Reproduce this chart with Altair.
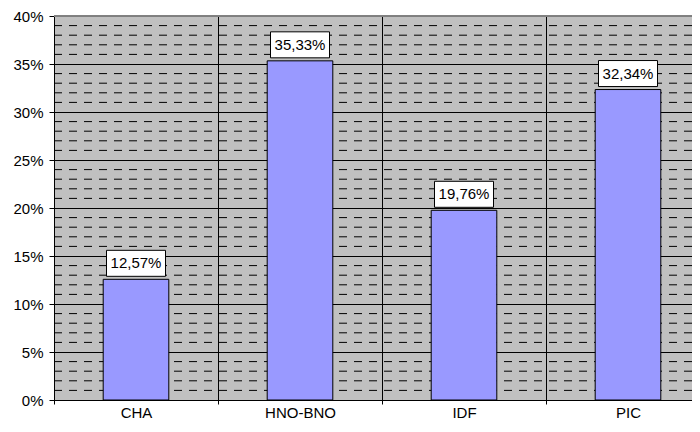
import altair as alt
import pandas as pd

categories = ["CHA", "HNO-BNO", "IDF", "PIC"]
values = [0.1257, 0.3533, 0.1976, 0.3234]
labels = ["12,57%", "35,33%", "19,76%", "32,34%"]
major_ticks = [0.0, 0.05, 0.10, 0.15, 0.20, 0.25, 0.30, 0.35, 0.40]
minor_ticks = [0.01, 0.02, 0.03, 0.04, 0.06, 0.07, 0.08, 0.09,
               0.11, 0.12, 0.13, 0.14, 0.16, 0.17, 0.18, 0.19,
               0.21, 0.22, 0.23, 0.24, 0.26, 0.27, 0.28, 0.29,
               0.31, 0.32, 0.33, 0.34, 0.36, 0.37, 0.38, 0.39]
y_max = 0.40

df = pd.DataFrame({"cat": categories, "value": values, "label": labels})
minor_df = pd.DataFrame({"v": minor_ticks})

FONT = "Liberation Sans"

y_scale = alt.Scale(domain=[0, y_max], nice=False, zero=True)
y_axis = alt.Axis(values=major_ticks, format=".0%", title=None, grid=True,
                  gridColor="black", gridOpacity=1, gridWidth=1,
                  tickColor="black", tickSize=5, domainColor="black",
                  labelFontSize=15, labelColor="black", labelPadding=6,
                  labelFont=FONT)
x_enc = alt.X("cat:N", sort=categories,
              scale=alt.Scale(paddingInner=0, paddingOuter=0, range=[0, 656]),
              axis=alt.Axis(title=None, labelAngle=0, tickBand="extent",
                            grid=True, gridColor="black", gridOpacity=1,
                            tickColor="black", tickSize=4, domainColor="black",
                            labelFontSize=15, labelColor="black",
                            labelPadding=1, labelFont=FONT))

minor = alt.Chart(minor_df).mark_rule(
    color="black", strokeDash=[8, 7], strokeWidth=1
).encode(y=alt.Y("v:Q", scale=y_scale, axis=y_axis))

top_border = alt.Chart(minor_df).mark_rule(
    color="#808080", strokeWidth=1
).encode(y=alt.datum(y_max))

base = alt.Chart(df)
bars = base.mark_bar(
    color="#9999ff", stroke="black", strokeWidth=1,
    width=alt.RelativeBandSize(0.4)
).encode(x=x_enc, y=alt.Y("value:Q", scale=y_scale, axis=y_axis))

boxes = base.mark_bar(
    fill="white", stroke="black", strokeWidth=1, width=59,
    yOffset=-3, y2Offset=-29
).encode(x=x_enc, y=alt.Y("value:Q", scale=y_scale, axis=y_axis),
         y2=alt.Y2("value:Q"))

texts = base.mark_text(
    font=FONT, fontSize=15, color="black", baseline="middle", dy=-16
).encode(x=x_enc, y=alt.Y("value:Q", scale=y_scale, axis=y_axis),
         text="label:N")

chart = alt.layer(minor, top_border, bars, boxes, texts).properties(
    width=638, height=384,
    autosize=alt.AutoSizeParams(type="none"),
    padding={"left": 46, "top": 8, "right": 0, "bottom": 24},
    background="white",
).configure_view(
    fill="#c0c0c0", stroke=None
).configure_text(font=FONT)

chart.save("out.html", embed_options={"renderer": "svg", "actions": False})
